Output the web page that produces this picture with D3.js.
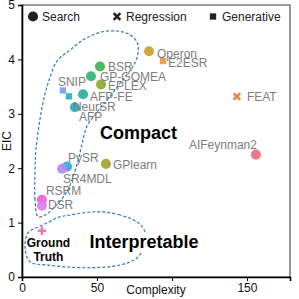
<!DOCTYPE html>
<html>
<head>
<meta charset="utf-8">
<script src="https://cdn.jsdelivr.net/npm/d3@7"></script>
<style>
  body { margin: 0; background: #fff; }
  text { font-family: "Liberation Sans", Arial, sans-serif; }
</style>
</head>
<body>
<svg width="299" height="299"></svg>
<script>
// data
const methods = ["Operon", "E2ESR", "FEAT", "AIFeynman2", "BSR", "GP-GOMEA", "EPLEX", "AFP-FE",
  "AFP", "SNIP", "NeurSR", "PySR", "SR4MDL", "GPlearn", "RSRM", "DSR", "Ground Truth"];
const complexity = [84.7, 94, 143.3, 156, 52, 46, 52.7, 40.7, 35.3, 27.3, 31.3, 30, 26.7, 56, 13.3, 13.3, 13.3];
const eic = [4.15, 3.97, 3.32, 2.25, 3.87, 3.69, 3.54, 3.36, 3.12, 3.43, 3.32, 2.03, 1.99, 2.08, 1.42, 1.31, 0.85];
const kinds = ["search", "generative", "regression", "search", "search", "search", "search", "search",
  "search", "generative", "generative", "search", "search", "search", "search", "search", "truth"];

const legendKinds = ["search", "regression", "generative"];
const legendLabels = ["Search", "Regression", "Generative"];

const xTicks = [0, 50, 100, 150];
const xTickLabels = ["0", "50", "", "150"];
const yTicks = [0, 1, 2, 3, 4, 5];

// hand drawn regions (complexity, EIC)
const compactRegion = [[10.7, 1.11], [8.7, 1.42], [8.7, 1.97], [9.3, 2.34], [12, 2.9], [15.3, 3.36],
  [18.7, 3.67], [23.3, 3.97], [32, 4.17], [43.3, 4.4], [56.7, 4.52], [70, 4.48], [76.7, 4.32],
  [77.3, 4.1], [74, 3.87], [67.3, 3.63], [58.7, 3.32], [50, 3.03], [43.3, 2.77], [40, 2.44],
  [36.7, 2.07], [30.7, 1.61], [23.3, 1.33], [15.3, 1.14]];
const interpretRegion = [[77.3, 1.0], [65.3, 1.14], [50, 1.2], [32, 1.14], [23.3, 1.09], [17.3, 1.0],
  [10.7, 0.92], [4, 0.81], [2, 0.55], [5.3, 0.28], [16.7, 0.22], [43.3, 0.17], [65.3, 0.22],
  [76.7, 0.35], [82, 0.59], [82, 0.83]];

// styles
const colors = {
  "Operon": "#c9a22a", "E2ESR": "#e8993a", "FEAT": "#f27a3a", "AIFeynman2": "#f26b80",
  "BSR": "#3bb54a", "GP-GOMEA": "#33b67a", "EPLEX": "#8caa2c", "AFP-FE": "#2db09a",
  "AFP": "#2aacbc", "SNIP": "#7b9ef5", "NeurSR": "#2aaec8", "PySR": "#34a4e6",
  "SR4MDL": "#b58af2", "GPlearn": "#a6a336", "RSRM": "#f05cd8", "DSR": "#e07ee8",
  "Ground Truth": "#f26ab0"
};
// label offsets in px: [dx, dy, anchor]
const labelNudge = {
  "Operon": [8, 2, "start"], "E2ESR": [5, 2, "start"], "FEAT": [10, 0, "start"],
  "AIFeynman2": [1, -10, "end"], "BSR": [8, 0, "start"], "GP-GOMEA": [9, 0, "start"],
  "EPLEX": [7, 1, "start"], "AFP-FE": [7, 2, "start"], "AFP": [4, 9, "start"],
  "SNIP": [-5, -9, "start"], "NeurSR": [4, 10, "start"], "PySR": [1, -9, "start"],
  "SR4MDL": [1, 10, "start"], "GPlearn": [7, 1, "start"], "RSRM": [4, -9, "start"],
  "DSR": [6, -1, "start"]
};

const svg = d3.select("svg");
const margin = { top: 5, right: 9, bottom: 22, left: 22 };
const width = 299 - margin.left - margin.right;
const height = 299 - margin.top - margin.bottom;

const x = d3.scaleLinear().domain([0, 178.7]).range([0, width]);
const y = d3.scaleLinear().domain([0, 5]).range([height, 0]);

const g = svg.append("g").attr("transform", `translate(${margin.left},${margin.top})`);

// custom stroke symbols
const timesSym = {
  draw(ctx, size) {
    const r = Math.sqrt(size) / 2;
    ctx.moveTo(-r, -r); ctx.lineTo(r, r);
    ctx.moveTo(r, -r); ctx.lineTo(-r, r);
  }
};
const plusSym = {
  draw(ctx, size) {
    const r = Math.sqrt(size) / 2;
    ctx.moveTo(-r, 0); ctx.lineTo(r, 0);
    ctx.moveTo(0, -r); ctx.lineTo(0, r);
  }
};
function symbolFor(kind) {
  if (kind === "search") return d3.symbol(d3.symbolCircle, 80)();
  if (kind === "generative") return d3.symbol(d3.symbolSquare, 40)();
  if (kind === "regression") return d3.symbol(timesSym, 44)();
  return d3.symbol(plusSym, 72)();
}
const stroked = (k) => k === "regression" || k === "truth";

// frame
g.append("rect")
  .attr("width", width).attr("height", height)
  .attr("fill", "none").attr("stroke", "#333").attr("stroke-width", 1);

// axes
const xAxis = g.append("g")
  .attr("transform", `translate(0,${height})`)
  .call(d3.axisBottom(x).tickValues(xTicks).tickFormat((d, i) => xTickLabels[i]).tickSize(4).tickPadding(2));
const yAxis = g.append("g")
  .call(d3.axisLeft(y).tickValues(yTicks).tickFormat(d3.format("d")).tickSize(4).tickPadding(3));
[xAxis, yAxis].forEach((a) => {
  a.select(".domain").attr("stroke", "#000").attr("stroke-width", 1.6);
  a.selectAll(".tick line").attr("stroke", "#000").attr("stroke-width", 1);
  a.selectAll(".tick text").attr("font-size", 12).attr("fill", "#111")
    .attr("font-family", "Liberation Sans, Arial, sans-serif");
});

svg.append("text")
  .attr("x", margin.left + width / 2).attr("y", 294)
  .attr("text-anchor", "middle").attr("font-size", 12).attr("fill", "#111")
  .text("Complexity");
svg.append("text")
  .attr("transform", `translate(11,${margin.top + height / 2}) rotate(-90)`)
  .attr("text-anchor", "middle").attr("font-size", 12).attr("fill", "#111")
  .text("EIC");

// regions
const regionLine = d3.line()
  .x((d) => x(d[0])).y((d) => y(d[1]))
  .curve(d3.curveCatmullRomClosed.alpha(0.5));
g.selectAll(".region")
  .data([compactRegion, interpretRegion])
  .enter()
  .append("path")
  .attr("class", "region")
  .attr("d", regionLine)
  .attr("fill", "none")
  .attr("stroke", "#2a78c2")
  .attr("stroke-width", 1.2)
  .attr("stroke-dasharray", "3,2");

// region names, with white halo
g.selectAll(".regionName")
  .data([
    { t: "Compact", cx: 77.7, cy: 2.53 },
    { t: "Interpretable", cx: 81.3, cy: 0.54 },
  ])
  .enter()
  .append("text")
  .attr("x", (d) => x(d.cx)).attr("y", (d) => y(d.cy))
  .attr("text-anchor", "middle")
  .attr("font-size", 18)
  .attr("font-weight", "bold")
  .attr("fill", "#000")
  .attr("stroke", "#fff").attr("stroke-width", 8).attr("stroke-linejoin", "round")
  .attr("paint-order", "stroke")
  .text((d) => d.t);

const pts = methods.map((m, i) => ({ m, cx: complexity[i], e: eic[i], kind: kinds[i] }));

// points
g.selectAll(".pt")
  .data(pts)
  .enter()
  .append("path")
  .attr("class", "pt")
  .attr("transform", (d) => `translate(${x(d.cx)},${y(d.e)})`)
  .attr("d", (d) => symbolFor(d.kind))
  .attr("fill", (d) => (stroked(d.kind) ? "none" : colors[d.m]))
  .attr("stroke", (d) => (stroked(d.kind) ? colors[d.m] : "none"))
  .attr("stroke-width", 2.6)
  .attr("opacity", 0.92);

// point labels
g.selectAll(".lbl")
  .data(pts.filter((d) => labelNudge[d.m]))
  .enter()
  .append("text")
  .attr("class", "lbl")
  .attr("x", (d) => x(d.cx) + labelNudge[d.m][0])
  .attr("y", (d) => y(d.e) + labelNudge[d.m][1])
  .attr("dy", "0.36em")
  .attr("text-anchor", (d) => labelNudge[d.m][2])
  .attr("font-size", 12)
  .attr("fill", "#7d7d7d")
  .text((d) => d.m);

// ground truth label
const gt = pts.find((d) => d.kind === "truth");
g.append("text")
  .attr("x", x(gt.cx) + 6.5).attr("y", y(gt.e) + 16)
  .attr("text-anchor", "middle").attr("font-size", 12).attr("font-weight", "bold")
  .selectAll("tspan")
  .data(["Ground", "Truth"])
  .enter()
  .append("tspan")
  .attr("x", x(gt.cx) + 6.5)
  .attr("dy", (d, i) => (i === 0 ? 0 : 14))
  .text((d) => d);

// legend
const legendX = [33, 117, 213];
const leg = svg.append("g").attr("transform", "translate(0,16.5)");
leg.selectAll("path")
  .data(legendKinds)
  .enter()
  .append("path")
  .attr("transform", (d, i) => `translate(${legendX[i]},0)`)
  .attr("d", (d) => symbolFor(d))
  .attr("fill", (d) => (stroked(d) ? "none" : "#222"))
  .attr("stroke", (d) => (stroked(d) ? "#222" : "none"))
  .attr("stroke-width", 2.6);
leg.selectAll("text")
  .data(legendLabels)
  .enter()
  .append("text")
  .attr("x", (d, i) => legendX[i] + 9)
  .attr("dy", "0.36em")
  .attr("font-size", 12)
  .attr("fill", "#222")
  .text((d) => d);
</script>
</body>
</html>
